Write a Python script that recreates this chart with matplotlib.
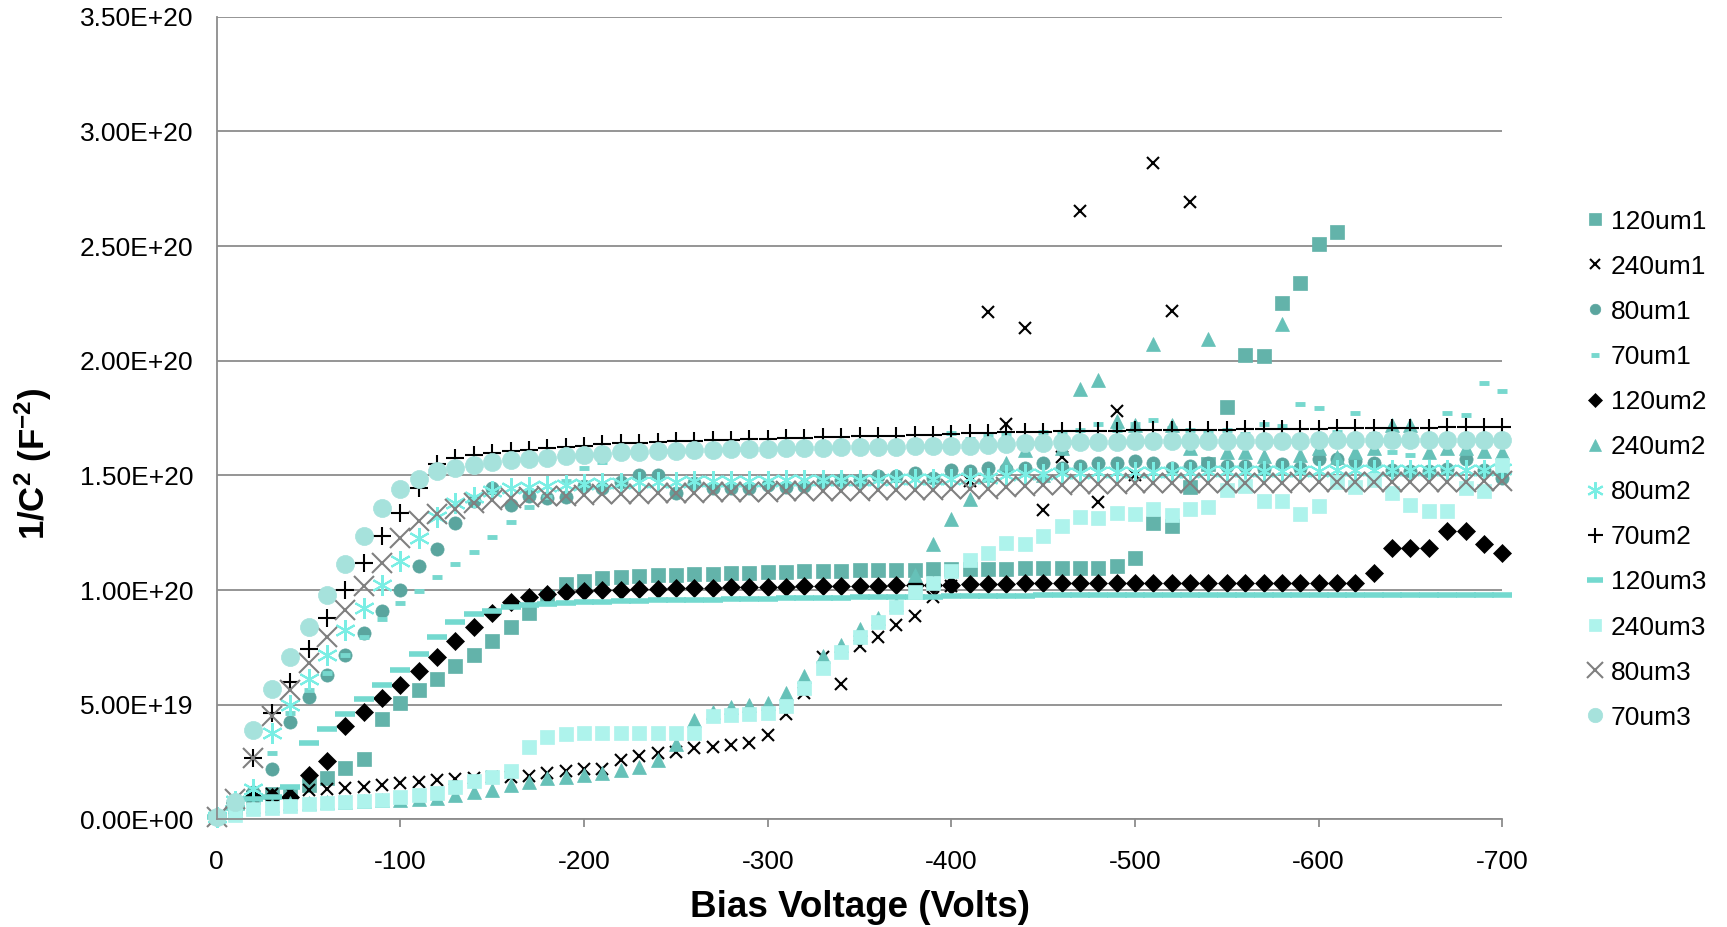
import numpy as np
import matplotlib
matplotlib.use("Agg")
from matplotlib import pyplot as plt
from matplotlib.ticker import FuncFormatter, MultipleLocator

plt.rcParams['font.family'] = ['Liberation Sans', 'DejaVu Sans']
plt.rcParams['mathtext.fontset'] = 'custom'
plt.rcParams['mathtext.rm'] = 'Liberation Sans:bold'
plt.rcParams['mathtext.bf'] = 'Liberation Sans:bold'
plt.rcParams['mathtext.default'] = 'bf'

# bias voltage, 0 to -700 V in 10 V steps
bias = np.arange(0, -701, -10)

# 1/C^2 values in units of 1e20 F^-2 (None = no point)
v120um1 = [0.012, 0.05, 0.10, 0.11, 0.12, 0.15, 0.18, 0.223, 0.262, 0.437,
           0.509, 0.565, 0.611, 0.669, 0.717, 0.78, 0.838, 0.90, 0.972, 1.026,
           1.038, 1.052, 1.058, 1.062, 1.066, 1.068, 1.07, 1.072, 1.074, 1.076,
           1.078, 1.08, 1.082, 1.083, 1.085, 1.086, 1.087, 1.088, 1.089, 1.09,
           1.091, 1.092, 1.093, 1.094, 1.095, 1.096, 1.096, 1.097, 1.098, 1.106,
           1.142, 1.293, 1.281, 1.45, 1.55, 1.797, 2.024, 2.02, 2.25, 2.34,
           2.508, 2.563] + [None] * 9
v240um1 = [0.01, 0.05, 0.10, 0.11, 0.12, 0.128, 0.135, 0.138, 0.142, 0.149,
           0.157, 0.164, 0.172, 0.178, 0.18, 0.183, 0.186, 0.189, 0.204, 0.213,
           0.218, 0.222, 0.259, 0.276, 0.288, 0.296, 0.31, 0.317, 0.325, 0.335,
           0.368, 0.46, 0.55, 0.71, 0.591, 0.757, 0.797, 0.85, 0.888, 0.97,
           1.02, 1.474, 2.213, 1.725, 2.141, 1.35, 1.581, 2.655, 1.383, 1.781,
           1.5, 2.861, 2.218, 2.693] + [None] * 17
v80um1 = [0.01, 0.06, 0.12, 0.22, 0.424, 0.535, 0.63, 0.717, 0.815, 0.91,
          1.001, 1.103, 1.179, 1.293, 1.39, 1.445, 1.372, 1.409, 1.40, 1.405,
          1.452, 1.445, 1.47, 1.503, 1.503, 1.424, 1.467, 1.445, 1.445, 1.445,
          1.46, 1.45, 1.455, 1.475, 1.48, 1.48, 1.496, 1.496, 1.511, 1.49,
          1.525, 1.52, 1.533, 1.53, 1.533, 1.555, 1.533, 1.54, 1.555, 1.555,
          1.562, 1.555, 1.533, 1.54, 1.555, 1.54, 1.54, 1.53, 1.548, 1.533,
          1.572, 1.57, 1.562, 1.555, 1.525, 1.52, 1.52, 1.53, 1.572, 1.525,
          1.49]
v70um1 = [0.01, 0.05, 0.12, 0.291, 0.466, 0.565, 0.638, 0.717, 0.797, 0.873,
          0.943, 0.998, 1.059, 1.115, 1.164, 1.231, 1.297, 1.362, 1.406, 1.477,
          1.533, 1.56, 1.58, 1.59, 1.60, 1.60, 1.61, 1.60, 1.62, 1.61,
          1.62, 1.62, 1.63, 1.62, 1.63, 1.64, 1.63, 1.64, 1.65, 1.64,
          1.686, 1.66, 1.67, 1.68, 1.66, 1.69, 1.68, 1.70, 1.722, 1.70,
          1.724, 1.742, 1.707, 1.70, 1.69, 1.70, 1.68, 1.725, 1.715, 1.81,
          1.795, 1.69, 1.77, 1.68, 1.60, 1.59, 1.66, 1.77, 1.765, 1.904,
          1.868]
v120um2 = [0.01, 0.05, 0.099, 0.099, 0.10, 0.193, 0.256, 0.407, 0.47, 0.528,
           0.586, 0.648, 0.71, 0.776, 0.841, 0.902, 0.95, 0.969, 0.982, 0.99,
           0.994, 1.0, 1.002, 1.004, 1.006, 1.008, 1.01, 1.011, 1.012, 1.013,
           1.014, 1.015, 1.016, 1.017, 1.018, 1.019, 1.02, 1.021, 1.022, 1.023,
           1.024, 1.026, 1.027, 1.028, 1.029, 1.03, 1.03, 1.031, 1.031, 1.031,
           1.031, 1.031, 1.031, 1.032, 1.032, 1.032, 1.032, 1.032, 1.032, 1.032,
           1.032, 1.032, 1.032, 1.074, 1.183, 1.183, 1.183, 1.259, 1.259, 1.202,
           1.162]
v240um2 = [0.01, 0.04, 0.06, 0.065, 0.07, 0.072, 0.075, 0.078, 0.08, 0.083,
           0.086, 0.09, 0.095, 0.106, 0.121, 0.128, 0.15, 0.164, 0.179, 0.186,
           0.193, 0.204, 0.215, 0.23, 0.259, 0.33, 0.434, 0.47, 0.489, 0.498,
           0.509, 0.55, 0.626, 0.713, 0.76, 0.83, 0.88, 0.94, 1.067, 1.2,
           1.31, 1.398, 1.50, 1.555, 1.61, 1.50, 1.62, 1.878, 1.915, 1.739,
           1.72, 2.074, 1.72, 1.62, 2.093, 1.60, 1.60, 1.583, 2.159, 1.59,
           1.62, 1.58, 1.60, 1.62, 1.72, 1.72, 1.60, 1.62, 1.62, 1.605,
           1.60]
v80um2 = [0.01, 0.08, 0.135, 0.376, 0.499, 0.611, 0.717, 0.827, 0.921, 1.023,
          1.125, 1.228, 1.318, 1.38, 1.405, 1.431, 1.445, 1.45, 1.455, 1.46,
          1.462, 1.466, 1.468, 1.47, 1.472, 1.473, 1.474, 1.475, 1.476, 1.476,
          1.477, 1.478, 1.479, 1.48, 1.48, 1.481, 1.482, 1.483, 1.484, 1.485,
          1.486, 1.488, 1.49, 1.50, 1.505, 1.508, 1.51, 1.512, 1.513, 1.514,
          1.515, 1.516, 1.516, 1.517, 1.518, 1.518, 1.519, 1.52, 1.52, 1.521,
          1.521, 1.522, 1.522, 1.523, 1.523, 1.524, 1.524, 1.525, 1.525, 1.525,
          1.526]
v70um2 = [0.012, 0.07, 0.27, 0.463, 0.601, 0.742, 0.878, 1.001, 1.118, 1.234,
          1.337, 1.445, 1.55, 1.575, 1.59, 1.598, 1.605, 1.612, 1.618, 1.624,
          1.63, 1.636, 1.64, 1.643, 1.646, 1.649, 1.652, 1.654, 1.656, 1.658,
          1.66, 1.662, 1.664, 1.666, 1.668, 1.67, 1.672, 1.674, 1.676, 1.678,
          1.68, 1.684, 1.686, 1.688, 1.69, 1.691, 1.692, 1.693, 1.694, 1.695,
          1.696, 1.697, 1.698, 1.699, 1.70, 1.70, 1.701, 1.702, 1.703, 1.704,
          1.704, 1.705, 1.706, 1.706, 1.707, 1.708, 1.708, 1.709, 1.71, 1.711,
          1.712]
v120um3 = [0.01, 0.05, 0.09, 0.10, 0.142, 0.332, 0.393, 0.46, 0.524, 0.586,
           0.652, 0.722, 0.795, 0.86, 0.895, 0.911, 0.925, 0.935, 0.94, 0.945,
           0.948, 0.95, 0.952, 0.953, 0.955, 0.956, 0.958, 0.959, 0.96, 0.962,
           0.963, 0.964, 0.965, 0.966, 0.967, 0.968, 0.969, 0.97, 0.971, 0.972,
           0.973, 0.974, 0.975, 0.976, 0.976, 0.977, 0.977, 0.978, 0.978, 0.978,
           0.979, 0.979, 0.979, 0.979, 0.979, 0.979, 0.98, 0.98, 0.98, 0.98,
           0.98, 0.98, 0.98, 0.98, 0.98, 0.98, 0.98, 0.98, 0.98, 0.98,
           0.98]
v240um3 = [0.01, 0.02, 0.044, 0.052, 0.058, 0.067, 0.073, 0.077, 0.081, 0.087,
           0.099, 0.106, 0.114, 0.142, 0.169, 0.183, 0.212, 0.317, 0.361, 0.372,
           0.378, 0.378, 0.378, 0.378, 0.378, 0.378, 0.378, 0.451, 0.456, 0.46,
           0.463, 0.495, 0.572, 0.659, 0.732, 0.797, 0.863, 0.928, 0.99, 1.031,
           1.084, 1.13, 1.162, 1.205, 1.20, 1.234, 1.278, 1.319, 1.314, 1.336,
           1.333, 1.354, 1.329, 1.354, 1.362, 1.438, 1.452, 1.387, 1.387, 1.333,
           1.365, 1.47, 1.45, 1.48, 1.424, 1.372, 1.343, 1.343, 1.445, 1.431,
           1.547]
v80um3 = [0.012, 0.09, 0.266, 0.45, 0.566, 0.681, 0.797, 0.914, 1.019, 1.118,
          1.225, 1.30, 1.331, 1.355, 1.38, 1.395, 1.402, 1.405, 1.41, 1.412,
          1.415, 1.417, 1.419, 1.421, 1.423, 1.424, 1.425, 1.426, 1.427, 1.428,
          1.429, 1.43, 1.431, 1.432, 1.433, 1.434, 1.435, 1.436, 1.437, 1.438,
          1.44, 1.441, 1.442, 1.45, 1.455, 1.458, 1.46, 1.462, 1.463, 1.464,
          1.465, 1.466, 1.466, 1.467, 1.467, 1.468, 1.468, 1.469, 1.469, 1.47,
          1.47, 1.47, 1.471, 1.471, 1.472, 1.472, 1.472, 1.473, 1.473, 1.474,
          1.474]
v70um3 = [0.012, 0.075, 0.39, 0.57, 0.71, 0.84, 0.98, 1.115, 1.237, 1.358,
          1.44, 1.486, 1.518, 1.533, 1.547, 1.557, 1.566, 1.572, 1.578, 1.585,
          1.59, 1.595, 1.60, 1.603, 1.606, 1.608, 1.61, 1.612, 1.614, 1.615,
          1.617, 1.618, 1.62, 1.621, 1.622, 1.623, 1.625, 1.626, 1.627, 1.628,
          1.629, 1.63, 1.632, 1.636, 1.64, 1.642, 1.644, 1.645, 1.646, 1.647,
          1.648, 1.648, 1.649, 1.649, 1.65, 1.65, 1.651, 1.651, 1.652, 1.652,
          1.653, 1.653, 1.653, 1.654, 1.654, 1.654, 1.655, 1.655, 1.655, 1.656,
          1.656]

labels = ['120um1', '240um1', '80um1', '70um1', '120um2', '240um2',
          '80um2', '70um2', '120um3', '240um3', '80um3', '70um3']
values = [v120um1, v240um1, v80um1, v70um1, v120um2, v240um2,
          v80um2, v70um2, v120um3, v240um3, v80um3, v70um3]

# marker, colour, size, edge width
styles = [('s', '#63b3aa', 10.5, 0.5),
          ('x', 'black', 9.0, 1.5),
          ('o', '#5aa59e', 9.5, 0.5),
          ('_', '#77d8ce', 7.0, 3.5),
          ('D', 'black', 9.0, 0.5),
          ('^', '#66c1b8', 10.0, 0.5),
          ((6, 2, 0), '#7aeee4', 15.0, 1.5),
          ('+', 'black', 13.5, 1.5),
          ('_', '#74d9cf', 14.0, 4.0),
          ('s', '#aef3ec', 10.5, 0.5),
          ('x', '#808080', 14.5, 1.5),
          ('o', '#a6e2dc', 13.0, 0.5)]

fig = plt.figure(figsize=(17.27, 9.27), dpi=100)
ax = fig.add_axes([0.1255, 0.116, 0.7444, 0.866])

for lab, vals, (mk, col, ms, mew) in zip(labels, values, styles):
    y = np.array(vals, dtype=float) * 1e20
    ax.plot(bias, y, linestyle='none', marker=mk, color=col, mfc=col, mec=col,
            ms=ms, mew=mew, label=lab, clip_on=False)

ax.set_xlim(0, -700)
ax.set_ylim(0, 3.5e20)
ax.xaxis.set_major_locator(MultipleLocator(100))
ax.yaxis.set_major_locator(MultipleLocator(5e19))
ax.xaxis.set_major_formatter(FuncFormatter(lambda v, p: '%d' % round(v)))
ax.yaxis.set_major_formatter(FuncFormatter(lambda v, p: '{:.2E}'.format(v)))

grey = '#8c8c8c'
ax.yaxis.grid(True, color=grey, lw=1.3)
ax.set_axisbelow(True)
for s in ['top', 'right']:
    ax.spines[s].set_visible(False)
for s in ['left', 'bottom']:
    ax.spines[s].set_color(grey)
    ax.spines[s].set_linewidth(1.3)
ax.tick_params(axis='x', direction='out', length=6, width=1.3, color=grey,
               labelsize=19, pad=16)
ax.tick_params(axis='y', length=0, labelsize=19, pad=17)

fig.text(0.498, 0.021, 'Bias Voltage (Volts)', ha='center', va='center',
         fontsize=26.5, fontweight='bold')
fig.text(0.019, 0.50, r'1/C$^2$ (F$^{-2}$)', ha='center', va='center',
         rotation=90, fontsize=25, fontweight='bold')

fig.legend(loc='center left', bbox_to_anchor=(0.9115, 0.4934), frameon=False,
           fontsize=19, handlelength=0.6, handletextpad=0.3, borderpad=0,
           labelspacing=0.8, markerscale=0.8)

fig.savefig('out.png', dpi=100)
